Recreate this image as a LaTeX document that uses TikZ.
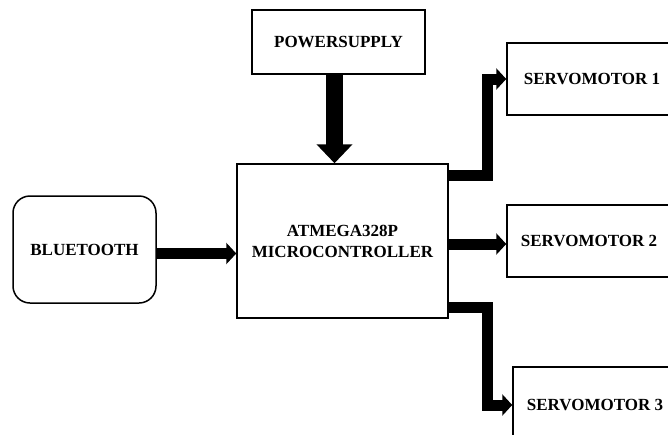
\documentclass[tikz,border=0pt]{standalone}
\usepackage{fontspec}
\setmainfont{Liberation Serif}
\usepackage{tikz}
\usetikzlibrary{positioning,arrows.meta,calc}

% boxes of the block diagram
\tikzset{block/.style={draw, line width=1.5pt, fill=white, align=center,
    font=\fontsize{17}{21}\selectfont\bfseries, inner sep=0pt}}
\tikzset{softblock/.style={block, rounded corners=17pt}}
% thick black arrows between the blocks
\tikzset{fatarrow/.style={line width=11pt, line join=miter,
    -{Triangle[length=10pt,width=21pt]}}}
\tikzset{hugearrow/.style={line width=17pt,
    -{Triangle[length=19pt,width=35pt]}}}

\begin{document}
\begin{tikzpicture}[x=1pt,y=-1pt]
      % page size of the reference picture
      \useasboundingbox (0,0) rectangle (668,434);
      \clip (0,0) rectangle (668,434);
      % the blocks
      \node[block, minimum width=173pt, minimum height=64pt] (power) at (338.5,42) {POWERSUPPLY};
      \node[block, minimum width=211pt, minimum height=154pt] (micro) at (342.5,241) {ATMEGA328P\\MICROCONTROLLER};
      \node[softblock, minimum width=143pt, minimum height=107pt] (bt) at (84.5,249.5) {BLUETOOTH};
      \node[block, minimum width=170pt, minimum height=72pt] (servoA) at (592,79) {SERVOMOTOR 1};
      \node[block, minimum width=164pt, minimum height=72pt] (servoB) at (589,241) {SERVOMOTOR 2};
      \node[block, minimum width=164pt, minimum height=76pt] (servoC) at (595,405) {SERVOMOTOR 3};
      % the arrows
      \draw[hugearrow] ([xshift=-4pt]power.south) -- ([xshift=-4pt]power.south |- micro.north);
      \draw[fatarrow] ([yshift=-4pt]bt.east) -- ([yshift=-4pt]bt.east -| micro.west);
      \draw[fatarrow] ([yshift=-12pt]micro.north east) -| ([xshift=-19pt]servoA.west) -- (servoA.west);
      \draw[fatarrow] ([yshift=-3pt]micro.east) -- ([yshift=-3pt]servoB.west);
      \draw[fatarrow] ([yshift=11pt]micro.south east) -| ([xshift=-25pt]servoC.west) -- (servoC.west);
\end{tikzpicture}
\end{document}
